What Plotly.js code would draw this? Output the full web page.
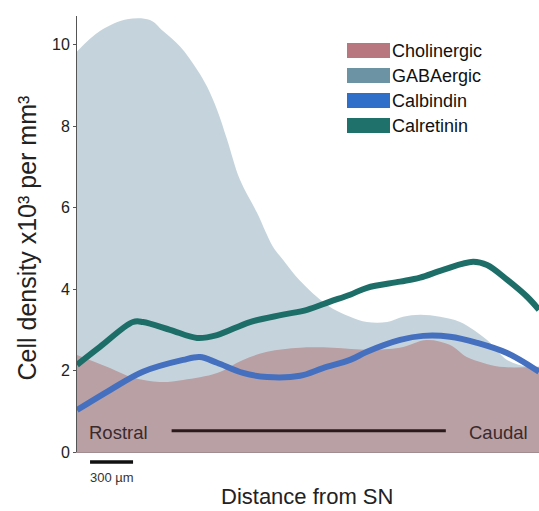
<!DOCTYPE html>
<html>
<head>
<meta charset="utf-8">
<script src="https://cdn.plot.ly/plotly-3.0.1.min.js"></script>
<style>html,body{margin:0;padding:0;background:#fff;}#chart{width:539px;height:511px;}</style>
</head>
<body>
<div id="chart"></div>
<script>
// distance from SN (µm) and densities (x10^3 per mm^3)
var gabaX = [0,160,349,509,600,719,837,907,977,1047,1137,1256,1367,1437,1556,1744,1905,2023,2163,2274,2393,2533,2672,2861,3000,3140,3223];
var gabaY = [9.83,10.33,10.62,10.6,10.33,9.95,9.39,8.97,8.40,7.67,6.68,5.87,5.04,4.72,4.20,3.61,3.32,3.19,3.19,3.32,3.37,3.32,3.19,2.75,2.26,2.09,2.06];

var cholX = [0,230,391,579,740,977,1158,1326,1556,1786,2044,2251,2440,2600,2719,2830,2949,3223];
var cholY = [2.38,2.06,1.82,1.72,1.77,1.94,2.26,2.46,2.56,2.56,2.51,2.56,2.75,2.63,2.33,2.19,2.09,2.09];

var calbX = [0,230,460,740,858,977,1158,1326,1556,1716,1905,2023,2254,2414,2602,2791,3000,3223];
var calbY = [1.03,1.52,1.97,2.26,2.33,2.19,1.94,1.84,1.87,2.06,2.26,2.46,2.75,2.85,2.83,2.68,2.43,1.97];

var calrX = [0,160,391,460,649,837,977,1207,1437,1605,1765,1905,2023,2254,2393,2553,2763,2861,3000,3140,3223];
var calrY = [2.14,2.58,3.19,3.19,3.00,2.80,2.87,3.19,3.37,3.49,3.69,3.86,4.03,4.18,4.28,4.47,4.67,4.59,4.23,3.81,3.49];

var seriesNames = ['Cholinergic','GABAergic','Calbindin','Calretinin'];
var swatchColors = ['#b8777f','#6b93a3','#2f6fc9','#1f716c'];
var yTicks = [0,2,4,6,8,10];
var scaleBar = [91, 391]; // 300 µm
var axisLine = [660, 2573]; // Rostral -> Caudal line

var FONT = 'Liberation Sans, Arial, sans-serif';
var traces = [
  {x: gabaX, y: gabaY, type:'scatter', mode:'lines', fill:'tozeroy', name:seriesNames[1],
   line:{shape:'spline', width:0, color:'#c5d4dc'}, fillcolor:'#c5d4dc', showlegend:false, hoverinfo:'skip'},
  {x: cholX, y: cholY, type:'scatter', mode:'lines', fill:'tozeroy', name:seriesNames[0],
   line:{shape:'spline', width:0, color:'#b9a0a4'}, fillcolor:'#b9a0a4', showlegend:false, hoverinfo:'skip'},
  {x: calbX, y: calbY, type:'scatter', mode:'lines', name:seriesNames[2],
   line:{shape:'spline', width:6, color:'#4570c0'}, showlegend:false, hoverinfo:'skip'},
  {x: calrX, y: calrY, type:'scatter', mode:'lines', name:seriesNames[3],
   line:{shape:'spline', width:6, color:'#1d6e69'}, showlegend:false, hoverinfo:'skip'}
];

var shapes = [
  {type:'line', xref:'x', yref:'paper', x0:scaleBar[0], x1:scaleBar[1], y0:-0.023, y1:-0.023, line:{color:'#111', width:3.5}},
  {type:'line', xref:'x', yref:'y', x0:axisLine[0], x1:axisLine[1], y0:0.52, y1:0.52, line:{color:'#2a1a1c', width:3}}
];
var annotations = [
  {text:'Cell density x10³ per mm³', xref:'paper', yref:'paper', x:-0.108, y:0.49, textangle:-90, showarrow:false,
   xanchor:'center', yanchor:'middle', font:{family:FONT, size:25, color:'#222'}},
  {text:'Distance from SN', xref:'paper', yref:'paper', x:0.497, y:-0.103, showarrow:false,
   xanchor:'center', yanchor:'middle', font:{family:FONT, size:22, color:'#222'}},
  {text:'300 µm', xref:'x', yref:'paper', x:(scaleBar[0]+scaleBar[1])/2, y:-0.036, showarrow:false,
   xanchor:'center', yanchor:'top', font:{family:FONT, size:13, color:'#333'}},
  {text:'Rostral', xref:'x', yref:'y', x:70, y:0.47, showarrow:false, xanchor:'left', yanchor:'middle',
   font:{family:FONT, size:18.5, color:'#3a2a2c'}},
  {text:'Caudal', xref:'x', yref:'y', x:3160, y:0.47, showarrow:false, xanchor:'right', yanchor:'middle',
   font:{family:FONT, size:18.5, color:'#3a2a2c'}}
];
// manual legend with rectangular swatches
for (var i = 0; i < seriesNames.length; i++) {
  var yTop = 1 - (43 - 16 + i*25) / 436;
  shapes.push({type:'rect', xref:'paper', yref:'paper', x0:(347-77)/462, x1:(390-77)/462,
    y0:yTop - 15/436, y1:yTop, line:{width:0}, fillcolor:swatchColors[i]});
  annotations.push({text:seriesNames[i], xref:'paper', yref:'paper', x:(390-77)/462, y:yTop - 7.5/436,
    showarrow:false, xanchor:'left', yanchor:'middle',
    font:{family:FONT, size:18, color:'#111'}});
}

var layout = {
  width:539, height:511,
  margin:{l:77, r:0, t:16, b:59, pad:0},
  paper_bgcolor:'#fff', plot_bgcolor:'#fff',
  showlegend:false,
  xaxis:{range:[0,3223], showgrid:false, zeroline:false, showticklabels:false, ticks:'',
         showline:true, linecolor:'#a38c90', linewidth:1},
  yaxis:{range:[0,10.7], tickvals:yTicks, ticktext:yTicks.map(String), showgrid:false, zeroline:false,
         showline:true, linecolor:'#555', linewidth:1, ticks:'outside', ticklen:3, tickcolor:'#555',
         tickfont:{family:FONT, size:16, color:'#222'}},
  shapes:shapes,
  annotations:annotations
};
Plotly.newPlot('chart', traces, layout, {staticPlot:true});
</script>
</body>
</html>
